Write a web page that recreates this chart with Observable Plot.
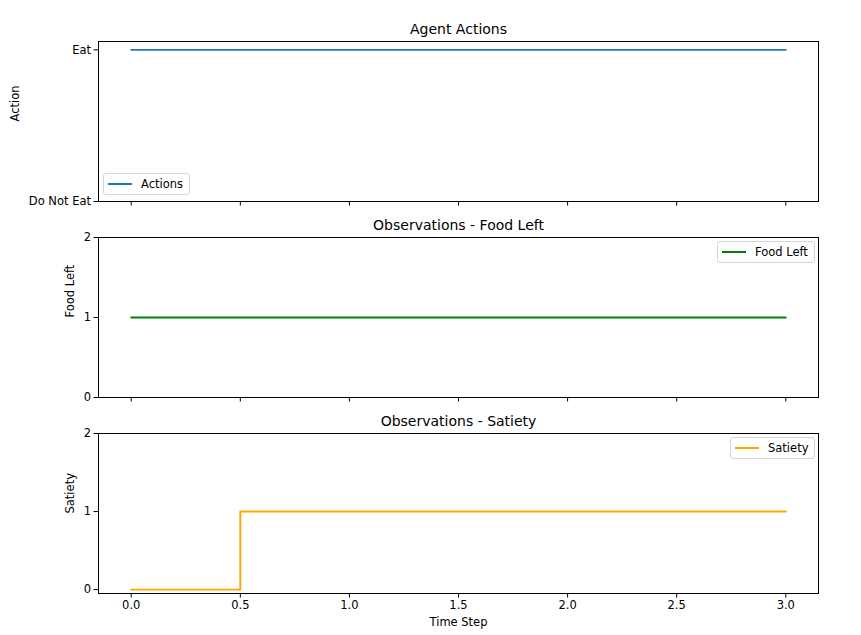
<!DOCTYPE html>
<html>
<head>
<meta charset="utf-8">
<script src="https://cdn.jsdelivr.net/npm/d3@7"></script>
<script src="https://cdn.jsdelivr.net/npm/@observablehq/plot@0.6"></script>
<style>
  body { margin: 0; background: #fff; }
  #chart { position: relative; width: 861px; height: 635px; font-family: "DejaVu Sans", sans-serif; }
  #chart svg { position: absolute; left: 0; }
  .legend { position: absolute; background: rgba(255,255,255,0.8); border: 1px solid #d6d6d6; border-radius: 3px;
            font-size: 11.5px; color: #000; display: flex; align-items: center; box-sizing: border-box; height: 22px; padding: 0 6px 0 4px; }
  .legend .sw { width: 24px; height: 0; border-top: 2px solid; margin-right: 9px; }
</style>
</head>
<body>
<div id="chart"></div>
<script>
const timeSteps = [0, 1, 2, 3];
const actions = [1, 1, 1, 1];
const foodLeft = [1, 1, 1, 1];
const satiety = [0, 1, 1, 1];
const actionLabels = ["Do Not Eat", "Eat"];
const xTicks = [0, 0.5, 1, 1.5, 2, 2.5, 3];
const titles = ["Agent Actions", "Observations - Food Left", "Observations - Satiety"];
const yLabels = ["Action", "Food Left", "Satiety"];
const seriesNames = ["Actions", "Food Left", "Satiety"];
const colors = ["#1f77b4", "green", "orange"];

const container = document.getElementById("chart");
const font = "DejaVu Sans, sans-serif";

function panel({values, yDomain, yTicks, yFormat, title, ylabel, labelDx, color, top, marginTop, marginBottom, showX}) {
  const data = timeSteps.map((t, i) => ({t, v: values[i]}));
  const marks = [
    Plot.line(data, {x: "t", y: "v", stroke: color, strokeWidth: 1.9, curve: "step"}),
    Plot.frame({stroke: "black", strokeWidth: 1}),
    Plot.axisY({ticks: yTicks, tickFormat: yFormat, tickSize: 4.5, tickPadding: 3, label: null, stroke: "black"}),
    Plot.axisX({ticks: xTicks, tickFormat: showX ? (d => d.toFixed(1)) : (() => ""), tickSize: 4.5, tickPadding: 3, label: null}),
    Plot.text([title], {text: d => d, frameAnchor: "top", dy: -12, fontSize: 14, lineAnchor: "middle"}),
    Plot.text([ylabel], {text: d => d, frameAnchor: "left", dx: labelDx, rotate: -90, fontSize: 11.5, lineAnchor: "middle"})
  ];
  if (showX) marks.push(Plot.text(["Time Step"], {text: d => d, frameAnchor: "bottom", dy: 29, fontSize: 11.5, lineAnchor: "middle"}));
  const svg = Plot.plot({
    width: 861,
    height: marginTop + 160 + marginBottom,
    marginLeft: 98, marginRight: 43, marginTop, marginBottom,
    style: {fontFamily: font, fontSize: "11.5px", color: "black", background: "transparent"},
    x: {domain: [-0.15, 3.15]},
    y: {domain: yDomain},
    marks
  });
  svg.style.top = top + "px";
  container.appendChild(svg);
}

panel({values: actions, yDomain: [0, 1.055], yTicks: [0, 1], yFormat: d => actionLabels[d], title: titles[0], ylabel: yLabels[0], labelDx: -83, color: colors[0], top: 0, marginTop: 41, marginBottom: 14, showX: false});
panel({values: foodLeft, yDomain: [0, 2], yTicks: [0, 1, 2], yFormat: d => String(d), title: titles[1], ylabel: yLabels[1], labelDx: -28, color: colors[1], top: 215, marginTop: 22, marginBottom: 14, showX: false});
panel({values: satiety, yDomain: [-0.05, 2], yTicks: [0, 1, 2], yFormat: d => String(d), title: titles[2], ylabel: yLabels[2], labelDx: -28, color: colors[2], top: 411, marginTop: 22, marginBottom: 42, showX: true});

function legend(name, color, left, top) {
  const div = document.createElement("div");
  div.className = "legend";
  div.style.left = left + "px";
  div.style.top = top + "px";
  const sw = document.createElement("span");
  sw.className = "sw";
  sw.style.borderTopColor = color;
  const label = document.createElement("span");
  label.textContent = name;
  div.appendChild(sw);
  div.appendChild(label);
  container.appendChild(div);
}
legend(seriesNames[0], colors[0], 103, 173);
legend(seriesNames[1], colors[1], 717, 241);
legend(seriesNames[2], colors[2], 730, 437);
</script>
</body>
</html>
